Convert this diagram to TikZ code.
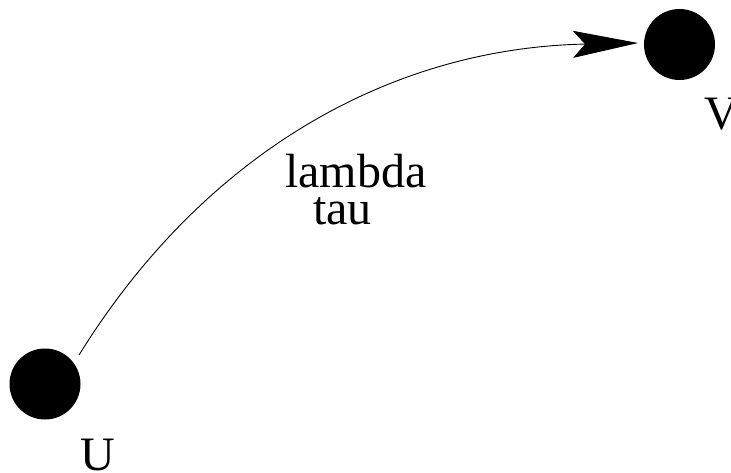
\documentclass[tikz,border=0pt]{standalone}
\usepackage{fontspec}
\setmainfont{Liberation Serif}
\usetikzlibrary{arrows.meta}
\begin{document}
\begin{tikzpicture}[x=1pt,y=-1pt,
  vertex/.style={circle,fill=black,inner sep=0pt,minimum size=71pt},
  lbl/.style={inner sep=0pt,font=\fontsize{48}{58}\selectfont},
  edge/.style={line width=0.9pt,-{Stealth[length=65pt,width=27pt,inset=12pt]}}]
\useasboundingbox (0,0) rectangle (731,473);
\node[vertex] (U) at (45,384) {};
\node[vertex] (V) at (679.5,44.5) {};
\node[lbl,anchor=base west] (Ul) at (80,470) {U};
\node[lbl,anchor=base west] (Vl) at (704,130) {V};
\node[lbl,anchor=base west] (lam) at (285,188) {lambda};
\node[lbl,anchor=base west] (tau) at (313,225) {tau};
\coordinate (s) at (79,355);
\coordinate (e) at (638,43);
\coordinate (c1) at (205,152);
\coordinate (c2) at (391,48);
\draw[edge] (s) .. controls (c1) and (c2) .. (e);
\end{tikzpicture}
\end{document}
